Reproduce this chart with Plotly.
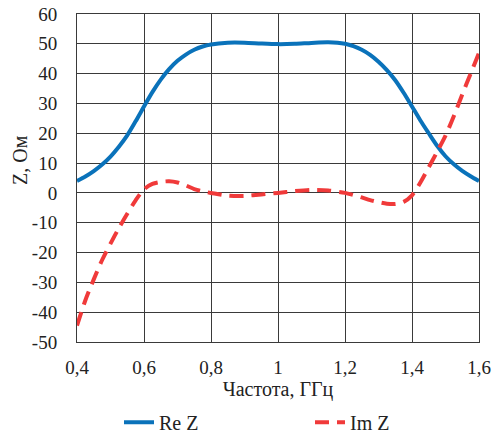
import plotly.graph_objects as go

freq = [0.400, 0.425, 0.450, 0.475, 0.500, 0.525, 0.550, 0.575, 0.600, 0.625, 0.650,
        0.675, 0.700, 0.725, 0.750, 0.775, 0.800, 0.850, 0.900, 0.950, 1.000,
        1.050, 1.100, 1.150, 1.200, 1.225, 1.250, 1.275, 1.300, 1.325, 1.350,
        1.375, 1.400, 1.425, 1.450, 1.475, 1.500, 1.525, 1.550, 1.575, 1.600]
re_z = [4.0, 5.5, 7.3, 9.5, 12.2, 15.5, 19.3, 24.0, 29.0, 33.8, 38.0,
        41.5, 44.3, 46.4, 48.0, 49.1, 49.8, 50.4, 50.4, 50.1, 49.9,
        50.0, 50.3, 50.5, 50.0, 49.2, 48.0, 46.3, 44.0, 41.2, 37.8,
        33.6, 29.0, 24.3, 20.0, 15.8, 12.3, 9.6, 7.4, 5.6, 4.0]
im_z = [-44.5, -36.0, -29.0, -22.5, -17.0, -11.8, -7.0, -2.5, 1.2, 3.0, 3.7,
        3.9, 3.5, 2.5, 1.3, 0.5, 0.0, -0.9, -1.0, -0.5, 0.0,
        0.6, 1.0, 0.8, 0.0, -0.7, -1.5, -2.4, -3.1, -3.6, -3.7,
        -3.0, -0.8, 3.5, 8.6, 13.8, 19.2, 25.8, 33.0, 40.0, 47.0]

x_ticks = [0.4, 0.6, 0.8, 1.0, 1.2, 1.4, 1.6]
x_labels = ["0,4", "0,6", "0,8", "1", "1,2", "1,4", "1,6"]
y_ticks = [-50, -40, -30, -20, -10, 0, 10, 20, 30, 40, 50, 60]
y_labels = ["-50", "-40", "-30", "-20", "-10", "0", "10", "20", "30", "40", "50", "60"]

font = "Liberation Serif, Times New Roman, serif"

fig = go.Figure()
fig.add_trace(go.Scatter(x=freq, y=re_z, mode="lines", name="Re Z",
                         line=dict(color="#0A72BA", width=4, shape="spline", smoothing=0.8)))
fig.add_trace(go.Scatter(x=freq, y=im_z, mode="lines", name="Im Z",
                         line=dict(color="#F03A3A", width=4, shape="spline", smoothing=0.8,
                                   dash="14px,8px")))

fig.update_layout(
    width=492, height=433,
    margin=dict(l=77, r=13, t=14, b=91, autoexpand=False),
    paper_bgcolor="white", plot_bgcolor="white",
    font=dict(family=font, size=19, color="#222"),
    showlegend=True,
    legend=dict(orientation="h", x=(119 - 77) / 402, xanchor="left", y=-0.245, yanchor="middle",
                font=dict(family=font, size=20), entrywidth=146),
    xaxis=dict(range=[0.4, 1.6], tickvals=x_ticks, ticktext=x_labels,
               showgrid=True, gridcolor="#3a3a3a", gridwidth=1,
               ticks="outside", ticklen=8, tickcolor="rgba(0,0,0,0)",
               showline=True, linecolor="#3a3a3a", mirror=True, zeroline=False,
               title=dict(text="Частота, ГГц", standoff=2, font=dict(family=font, size=20))),
    yaxis=dict(range=[-50, 60], tickvals=y_ticks, ticktext=y_labels,
               showgrid=True, gridcolor="#3a3a3a", gridwidth=1,
               ticks="outside", ticklen=15, tickcolor="rgba(0,0,0,0)",
               showline=True, linecolor="#3a3a3a", mirror=True, zeroline=False),
    annotations=[dict(text="Z, Ом", textangle=-90, xref="paper", yref="paper",
                      x=(20 - 77) / 402, y=(342 - 160) / 328, xanchor="center", yanchor="middle",
                      showarrow=False, font=dict(family=font, size=20))],
)

fig.write_html("out.html")
